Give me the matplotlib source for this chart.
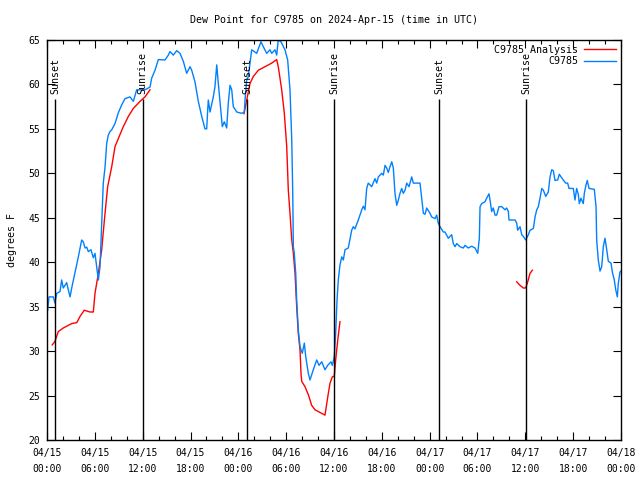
import matplotlib
matplotlib.use("Agg")
import matplotlib.pyplot as plt

# hours since 2024-04-15 00:00 UTC
obs_hours = [0.09, 0.25, 0.79, 1.0, 1.22, 1.63, 1.84, 2.04, 2.47, 2.67, 2.89, 3.10, 3.51, 3.93, 4.35, 4.55,
             4.77, 4.98, 5.18, 5.52, 5.81, 6.02, 6.23, 6.44, 6.65, 6.86, 7.06, 7.28, 7.49, 7.69, 7.90, 8.12,
             8.53, 8.94, 9.37, 9.78, 10.41, 10.83, 11.25, 11.88, 12.29, 12.92, 13.13, 13.55, 13.96, 14.80,
             15.22, 15.43, 15.84, 16.27, 16.68, 17.10, 17.52, 17.94, 18.15, 18.56, 18.98, 19.41, 19.82,
             20.03, 20.23, 20.45, 20.86, 21.07, 21.29, 21.49, 21.70, 21.99, 22.24, 22.54, 22.74, 22.96,
             23.17, 23.37, 23.80, 24.42, 24.75, 24.84, 25.05, 25.25, 25.68, 26.30, 26.84, 27.13, 27.56,
             27.97, 28.19, 28.60, 28.81, 29.01, 29.35, 29.85, 30.19, 30.48, 30.70, 30.82, 30.90, 31.02,
             31.20, 31.32, 31.52, 31.74, 32.02, 32.28, 32.45, 32.78, 32.99, 33.40, 33.83, 34.12, 34.46,
             34.87, 35.21, 35.62, 35.79, 36.04, 36.21, 36.38, 36.54, 36.75, 36.97, 37.17, 37.38, 37.79,
             38.22, 38.42, 38.63, 39.05, 39.48, 39.68, 39.89, 40.10, 40.30, 40.73, 41.14, 41.36, 41.56,
             41.98, 42.19, 42.40, 42.61, 42.81, 43.03, 43.24, 43.44, 43.65, 43.87, 44.07, 44.28, 44.49,
             44.69, 44.91, 45.12, 45.41, 45.75, 45.95, 46.79, 47.00, 47.21, 47.42, 47.63, 48.04, 48.25,
             48.67, 48.88, 49.08, 49.30, 49.71, 49.92, 50.34, 50.76, 50.96, 51.18, 51.39, 51.80, 52.22,
             52.43, 52.85, 53.27, 53.69, 54.03, 54.23, 54.32, 54.53, 54.94, 55.15, 55.44, 55.57, 55.78,
             55.98, 56.20, 56.41, 56.70, 57.04, 57.45, 57.66, 57.87, 57.95, 58.71, 58.92, 59.04, 59.33,
             59.55, 59.75, 60.05, 60.38, 60.59, 61.01, 61.22, 61.43, 61.63, 61.84, 62.06, 62.26, 62.56,
             62.88, 63.10, 63.31, 63.51, 63.72, 64.06, 64.26, 64.48, 64.76, 65.06, 65.31, 65.48, 66.02,
             66.23, 66.44, 66.65, 66.77, 66.98, 67.27, 67.40, 67.61, 67.77, 67.99, 68.65, 68.87, 68.95,
             69.15, 69.37, 69.58, 69.78, 69.99, 70.21, 70.41, 70.75, 70.91, 71.16, 71.34, 71.54, 71.66,
             71.87, 72.0]
obs_dewpt = [34.6, 36.1, 36.1, 35.4, 36.5, 36.7, 38.0, 37.1, 37.7, 36.9, 36.1, 37.1, 38.8, 40.6, 42.5, 42.3,
             41.6, 41.7, 41.2, 41.4, 40.5, 41.0, 39.5, 38.0, 39.5, 44.4, 48.9, 50.7, 53.4, 54.3, 54.7, 54.9,
             55.6, 56.8, 57.7, 58.4, 58.6, 58.1, 59.4, 59.4, 59.4, 59.7, 60.7, 61.6, 62.8, 62.75,
             63.3, 63.7, 63.3, 63.8, 63.5, 62.6, 61.25, 62.0, 61.6, 60.3, 58.1, 56.4, 55.0,
             55.0, 58.25, 56.9, 58.6, 59.75, 62.2, 60.1, 58.1, 55.25, 55.8, 55.1, 57.9, 59.9,
             59.4, 57.5, 56.9, 56.75, 56.9, 58.25, 60.5, 60.9, 63.9, 63.5, 64.8, 64.25, 63.5,
             63.9, 63.5, 63.9, 63.3, 65.0, 64.8, 63.9, 62.75, 59.4, 53.75, 48.1, 41.75, 41.0,
             38.75, 35.75, 32.4, 30.5, 29.75, 30.9, 29.4, 27.5, 26.75, 27.9, 29.0, 28.4, 28.8,
             27.9, 28.4, 28.8, 28.4, 29.4, 32.0, 35.75, 38.0, 39.7, 40.6, 40.25, 41.4, 41.6,
             43.6, 44.0, 43.75, 44.75, 45.9, 46.3, 45.9, 48.3, 48.9, 48.5, 49.4, 48.9, 49.6,
             50.0, 49.8, 50.9, 50.6, 50.1, 50.75, 51.3, 50.6, 47.75, 46.4, 47.0, 47.75, 48.3,
             47.75, 48.1, 48.9, 48.5, 49.6, 48.9, 48.9, 47.2, 45.5, 45.4, 46.1, 45.5, 45.1,
             44.9, 45.3, 44.4, 44.0, 43.4, 43.4, 42.7, 43.1, 42.1, 41.75, 42.1, 41.75, 41.6,
             41.9, 41.6, 41.8, 41.6, 41.0, 42.7, 46.25, 46.6, 46.8, 47.2, 47.7, 47.0, 45.7,
             46.1, 45.3, 45.3, 46.25, 46.25, 45.9, 46.1, 45.7, 44.75, 44.75, 44.4, 43.6, 44.0,
             43.1, 42.9, 42.5, 43.1, 43.6, 43.8, 45.1, 45.9, 46.25, 47.2, 48.3, 48.1, 47.4,
             47.9, 49.6, 50.4, 50.3, 49.2, 49.25, 49.9, 49.6, 49.25, 48.9, 48.9, 48.3, 48.3,
             47.0, 48.3, 47.6, 46.6, 47.2, 46.6, 47.75, 48.7, 49.2, 48.3, 48.2, 46.25, 42.5,
             40.25, 39.0, 39.5, 41.75, 42.7, 41.4, 40.1, 39.9, 38.9, 38.0, 36.9, 36.1, 37.6,
             38.9, 39.0]

ana1_hours = [0.66, 1.0, 1.42, 2.04, 3.10, 3.73, 4.14, 4.68, 5.39, 5.81, 6.02, 6.44, 6.86, 7.06, 7.28,
              7.61, 8.12, 8.53, 8.94, 9.57, 10.20, 10.83, 11.67, 12.29, 12.92]
ana1_dewpt = [30.7, 31.1, 32.2, 32.6, 33.1, 33.2, 33.9, 34.6, 34.4, 34.4, 36.5, 38.75, 41.4, 43.4, 45.5,
              48.5, 50.75, 53.0, 53.9, 55.25, 56.4, 57.3, 58.1, 58.6, 59.4]
ana2_hours = [24.71, 25.05, 25.46, 25.88, 26.51, 27.35, 28.19, 28.81, 29.01, 29.44, 29.77, 30.07, 30.27,
              30.48, 30.70, 30.90, 31.11, 31.32, 31.52, 31.74, 31.86, 31.95, 32.36, 32.78, 33.20, 33.62,
              34.24, 34.87, 35.09, 35.29, 35.50, 35.79, 36.04, 36.21, 36.47, 36.75]
ana2_dewpt = [56.7, 58.25, 60.1, 60.9, 61.6, 62.0, 62.4, 62.8, 62.0, 59.4, 56.75, 53.0, 48.1,
              45.5, 42.5, 41.0, 38.75, 35.0, 32.0, 30.1, 27.5, 26.6, 26.0, 25.1, 23.9, 23.4,
              23.1, 22.8, 24.1, 25.25, 26.4, 27.1, 27.2, 29.0, 31.25, 33.3]
ana3_hours = [58.92, 59.33, 59.75, 60.05, 60.30, 60.59, 60.88]
ana3_dewpt = [37.8, 37.4, 37.1, 37.1, 37.8, 38.75, 39.1]

sun_hours = [1.0, 12.0, 25.1, 36.0, 49.2, 60.1]
sun_labels = ["Sunset", "Sunrise", "Sunset", "Sunrise", "Sunset", "Sunrise"]

tick_hours = [0, 6, 12, 18, 24, 30, 36, 42, 48, 54, 60, 66, 72]
tick_labels = ["04/15\n00:00", "04/15\n06:00", "04/15\n12:00", "04/15\n18:00",
               "04/16\n00:00", "04/16\n06:00", "04/16\n12:00", "04/16\n18:00",
               "04/17\n00:00", "04/17\n06:00", "04/17\n12:00", "04/17\n18:00",
               "04/18\n00:00"]

FONT = "DejaVu Sans Mono"
plt.rcParams['font.family'] = FONT

fig = plt.figure(figsize=(6.4, 4.8), dpi=100)
ax = fig.add_axes([47/640, 40/480, 574/640, 400/480])

red = "#ff0000"
blue = "#0080ff"
ax.plot(ana1_hours, ana1_dewpt, color=red, lw=1.0, label="C9785 Analysis")
ax.plot(ana2_hours, ana2_dewpt, color=red, lw=1.0)
ax.plot(ana3_hours, ana3_dewpt, color=red, lw=1.0)
ax.plot(obs_hours, obs_dewpt, color=blue, lw=1.0, label="C9785")

for h, lab in zip(sun_hours, sun_labels):
    ax.vlines(h, 20, 58.4, color="black", lw=1.0)
    ax.text(h, 58.9, lab, rotation=90, ha="center", va="bottom", fontsize=7.2, family=FONT)

ax.set_xlim(0, 72)
ax.set_ylim(20, 65)
ax.set_xticks(tick_hours)
ax.set_xticklabels(tick_labels, fontsize=7, linespacing=1.75)
ax.set_xticks(range(0, 73, 2), minor=True)
ax.set_yticks(range(20, 66, 5))
ax.tick_params(axis='y', labelsize=7)
ax.tick_params(which='both', direction='in', top=True, right=True, width=0.8)
ax.tick_params(which='major', length=6)
ax.tick_params(axis='x', which='major', pad=6)
ax.tick_params(axis='y', which='major', pad=5)
ax.tick_params(which='minor', length=3)
for s in ax.spines.values():
    s.set_linewidth(1.0)

ax.set_ylabel("degrees F", fontsize=7.2, labelpad=8)
ax.set_title("Dew Point for C9785 on 2024-Apr-15 (time in UTC)", fontsize=7.2, pad=12)

ax.legend(loc="upper right", markerfirst=False, frameon=False, fontsize=7.2,
          handlelength=3.2, labelspacing=0.15, borderaxespad=0.1, handletextpad=0.6)

fig.savefig("out.png", dpi=100)
